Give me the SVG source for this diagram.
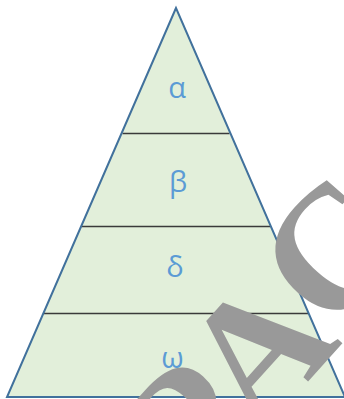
<svg xmlns="http://www.w3.org/2000/svg" width="344" height="399" viewBox="0 0 344 399">
  <style>
    .tier { fill: #E2EFDA; stroke: none; }
    .outline { fill: none; stroke: #41719C; stroke-width: 2; stroke-linejoin: miter; }
    .sep { stroke: #3A3A3A; stroke-width: 1.5; }
    .lbl { font-family: "Open Sans", "Noto Sans", sans-serif; font-size: 29px; fill: #5B9BD5; text-anchor: middle; }
    .wm { font-family: "Liberation Serif", serif; font-size: 176px; font-weight: bold; fill: #999999; }
  </style>
  <rect x="0" y="0" width="344" height="399" fill="#FFFFFF"/>
  <g id="pyramid">
    <polygon class="tier" points="176,8 7,397 345,397"/>
  </g>
  <g id="connectors">
    <line class="sep" x1="122.5" y1="133.5" x2="229.5" y2="133.5"/>
    <line class="sep" x1="81.5" y1="226.5" x2="270.5" y2="226.5"/>
    <line class="sep" x1="44" y1="313.5" x2="308" y2="313.5"/>
  </g>
  <g id="outline">
    <polygon class="outline" points="176,8 7,397 345,397"/>
  </g>
  <g id="tier-alpha"><text class="lbl" x="177" y="98">α</text></g>
  <g id="tier-beta"><text class="lbl" x="178" y="192">β</text></g>
  <g id="tier-delta"><text class="lbl" x="175" y="277">δ</text></g>
  <g id="tier-omega"><text class="lbl" x="172.5" y="368">ω</text></g>
  <g id="watermark">
    <text class="wm" x="195" y="507" transform="rotate(-48 195 507)">PA<tspan dx="-2" dy="-10">C</tspan></text>
  </g>
</svg>
